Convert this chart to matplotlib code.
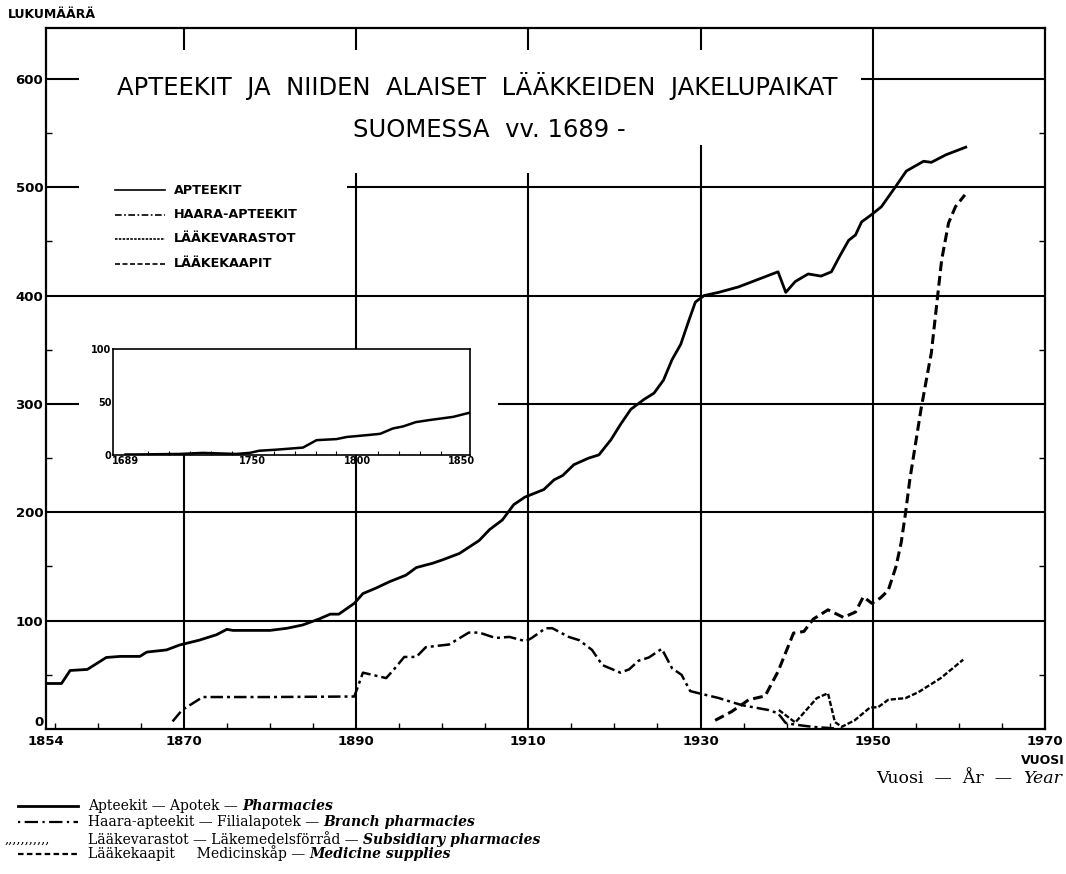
import matplotlib.pyplot as plt
from matplotlib.lines import Line2D

# Apteekit -- pharmacies, 1854-1961
apt_years = [1854, 1855.8, 1856.8, 1858.8, 1861, 1862.6, 1864.9, 1865.7, 1868, 1869.5,
             1871.8, 1873.8, 1875, 1875.7, 1880, 1882, 1883.8, 1885.7, 1887, 1888,
             1889.8, 1890.8, 1892.3, 1893.9, 1895.8, 1897, 1898.9, 1900, 1902, 1904.3,
             1905.5, 1907, 1908.3, 1909.6, 1911.8, 1913, 1914, 1915.3, 1917, 1918.2,
             1919.6, 1920.7, 1921.9, 1923.4, 1924.6, 1925.7, 1926.7, 1927.7, 1928.6, 1929.4,
             1930.4, 1932.1, 1934.4, 1936.7, 1939, 1939.9, 1941, 1942.5, 1944, 1945.2,
             1946.2, 1947.2, 1948, 1948.7, 1949.9, 1951, 1952.6, 1953.9, 1955.9, 1956.8,
             1958.5, 1960.8]
apt_counts = [42, 42, 54, 55, 66, 67, 67, 71, 73, 77.5,
              82, 87, 92, 91, 91, 93, 96, 101.5, 106, 106,
              116, 125, 130, 136, 142, 149, 153, 156, 162, 174,
              184, 193, 207, 214, 221, 230, 234, 244, 250, 253,
              267, 281, 295, 304, 310, 322, 341, 355, 376, 394,
              400, 403, 408, 415, 422, 403, 413, 420, 418, 422,
              437, 451, 456, 468, 475, 482, 500, 515, 524, 523,
              530, 537]

# Haara-apteekit -- branch pharmacies
haara_years = [1868.7, 1869.8, 1872.2, 1880, 1889.8, 1890.8, 1893.5, 1894.4, 1895.6, 1897,
               1898.1, 1900.8, 1903.1, 1904.3, 1906.2, 1907.8, 1909.7, 1910.4, 1912, 1912.8,
               1914.7, 1915.9, 1917.4, 1918.6, 1920.7, 1921.7, 1922.8, 1924, 1925.5, 1926.7,
               1927.8, 1928.8, 1929.8, 1932.1, 1934.8, 1937.9, 1939, 1939.9, 1941, 1943,
               1945.6]
haara_counts = [7, 17.5, 29.5, 29.5, 30, 52, 47, 55, 66.5, 66.5,
                75.5, 78, 89, 89, 84, 85, 81, 84, 93, 93,
                85, 82, 73, 59, 52, 55, 63, 66, 74, 56,
                50, 35, 33, 28.6, 22, 17.5, 14.5, 5.5, 4, 2,
                0.5]

# Lääkevarastot -- subsidiary pharmacies
varasto_years = [1939.1, 1941, 1943.5, 1944.8, 1945.6, 1946.4, 1947.9, 1949.7, 1950.6, 1951.8,
                 1953.8, 1955.3, 1957.9, 1960.5]
varasto_counts = [17.5, 6, 28.5, 33, 6.5, 2, 8, 20, 20, 27,
                  28.5, 34, 47, 64]

# Lääkekaapit -- medicine supplies
kaappi_years = [1931.7, 1933.6, 1935.6, 1937.5, 1939, 1940.8, 1942, 1943.1, 1944.8, 1946.6,
                1948, 1948.9, 1949.9, 1950.9, 1951.8, 1952.7, 1953.3, 1953.8, 1954.3, 1954.9,
                1955.6, 1956.4, 1956.8, 1957.4, 1958, 1958.8, 1959.6, 1960.7]
kaappi_counts = [8, 16, 27, 30.5, 53, 88.5, 90, 101.5, 110, 103,
                 108, 122, 116, 121, 128, 150, 172, 199, 230, 260,
                 295, 330, 347, 390, 433, 467, 482, 493]

# pharmacies before 1854 (small chart)
early_years = [1689, 1694, 1715, 1726, 1742, 1748.5, 1753, 1761, 1774, 1780.5,
               1790, 1795, 1806, 1811, 1817, 1822, 1828, 1834.7, 1846, 1854]
early_counts = [0.5, 0.5, 1, 2, 1, 2, 4, 5, 7, 14,
                15, 17, 19, 20, 25, 27, 31, 33, 36, 40]

year_ticks = [1854, 1870, 1890, 1910, 1930, 1950, 1970]
count_ticks = [0, 100, 200, 300, 400, 500, 600]
early_year_ticks = [1689, 1750, 1800, 1850]
early_count_ticks = [0, 50, 100]

W, H = 1066, 874
fig = plt.figure(figsize=(W / 100, H / 100), dpi=100)
fig.patch.set_facecolor('white')

ax = fig.add_axes([46 / W, 145 / H, 999 / W, 701 / H])
ax.set_xlim(1854, 1970)
ax.set_ylim(0, 647)

# grid, broken where the heading, key and small chart sit
grid_kw = dict(color='black', lw=1.5, zorder=1)
ax.hlines([100, 200, 400], 1854, 1970, **grid_kw)
ax.hlines([300, 500, 600], 1854, 1857.8, **grid_kw)
ax.hlines(300, 1906.5, 1970, **grid_kw)
ax.hlines(500, 1889, 1970, **grid_kw)
ax.hlines(600, 1948.6, 1970, **grid_kw)
ax.vlines([1870, 1890, 1910, 1930], 627, 647, **grid_kw)
ax.vlines(1870, 0, 253, **grid_kw)
ax.vlines([1890, 1910], 0, 513, **grid_kw)
ax.vlines(1930, 0, 539, **grid_kw)
ax.vlines(1950, 0, 647, **grid_kw)

ax.plot(apt_years, apt_counts, color='black', lw=2.0, solid_joinstyle='round', zorder=3)
ax.plot(haara_years, haara_counts, color='black', lw=1.8,
        linestyle=(0, (5, 1.6, 1.2, 1.6)), zorder=3)
ax.plot(varasto_years, varasto_counts, color='black', lw=1.7,
        linestyle=(0, (2.2, 0.9)), zorder=3)
ax.plot(kaappi_years, kaappi_counts, color='black', lw=2.2,
        linestyle=(0, (3.2, 1.6)), zorder=3)

ax.set_xticks(year_ticks)
ax.set_yticks(count_ticks)
ax.set_xticks(range(1855, 1970, 5), minor=True)
ax.set_yticks(range(50, 647, 100), minor=True)
ax.tick_params(which='major', length=0, labelsize=9.5, pad=4)
ax.tick_params(axis='y', which='major', pad=2)
ax.tick_params(which='minor', direction='in', length=4, width=1,
               right=True, left=True, bottom=True)
for lab in ax.get_xticklabels() + ax.get_yticklabels():
    lab.set_fontweight('bold')
ax.get_yticklabels()[0].set_va('bottom')
for sp in ax.spines.values():
    sp.set_linewidth(1.6)

# small chart for 1689-1854
ins = fig.add_axes([113 / W, (H - 455) / H, 357 / W, 106 / H])
ins.set_facecolor('white')
ins.set_xlim(1683, 1854)
ins.set_ylim(0, 100)
ins.plot(early_years, early_counts, color='black', lw=1.8, zorder=3)
ins.set_xticks(early_year_ticks)
ins.set_yticks(early_count_ticks)
ins.set_xticks(range(1700, 1850, 10), minor=True)
ins.tick_params(which='major', length=0, labelsize=7, pad=1)
ins.tick_params(which='minor', direction='in', length=3, width=0.8)
for lab in ins.get_xticklabels() + ins.get_yticklabels():
    lab.set_fontweight('bold')
for sp in ins.spines.values():
    sp.set_linewidth(1.2)

# text layer in pixel units
lay = fig.add_axes([0, 0, 1, 1])
lay.set_xlim(0, W)
lay.set_ylim(H, 0)
lay.axis('off')

lay.text(8, 14, 'LUKUMÄÄRÄ', fontsize=9, fontweight='bold', va='center')
lay.text(477, 86, 'APTEEKIT  JA  NIIDEN  ALAISET  LÄÄKKEIDEN  JAKELUPAIKAT',
         fontsize=17.5, ha='center', va='center')
lay.text(489, 130, 'SUOMESSA  vv. 1689 -', fontsize=17.5, ha='center', va='center')
lay.text(1065, 760, 'VUOSI', fontsize=9, fontweight='bold', ha='right', va='center')

# key inside the chart
key = [('APTEEKIT', '-'),
       ('HAARA-APTEEKIT', (0, (4, 1.5, 1, 1.5))),
       ('LÄÄKEVARASTOT', (0, (1.5, 0.8))),
       ('LÄÄKEKAAPIT', (0, (3, 1.5)))]
for i, (name, ls) in enumerate(key):
    y = 190 + i * 24.5
    lay.add_line(Line2D([115, 165], [y, y], color='black', lw=1.2, linestyle=ls))
    lay.text(174, y, name, fontsize=9.2, fontweight='bold', va='center')

# key below the chart
serif = 'DejaVu Serif'
rows = [('Apteekit — Apotek — ', 'Pharmacies', '-'),
        ('Haara-apteekit — Filialapotek — ', 'Branch pharmacies', (0, (1, 2, 6, 2))),
        ('Lääkevarastot — Läkemedelsförråd — ', 'Subsidiary pharmacies', None),
        ('Lääkekaapit     Medicinskåp — ', 'Medicine supplies', (0, (2.5, 1.5)))]
row_y = [810, 826, 844, 858]
for (plain, ital, ls), y in zip(rows, row_y):
    if ls is None:
        lay.text(5, y - 1, ',,,,,,,,,,,', fontsize=9.5, family=serif, va='baseline')
    else:
        lay.add_line(Line2D([18, 78], [y - 4, y - 4], color='black',
                            lw=2.0 if ls == '-' else 1.6, linestyle=ls))
    t = lay.text(88, y, plain, fontsize=10, family=serif, va='baseline')
    lay.annotate(ital, xy=(1, 0), xycoords=t, fontsize=10, family=serif,
                 style='italic', fontweight='bold', va='bottom')

yr = lay.text(1062, 783, 'Year', fontsize=12.5, family=serif, style='italic',
              ha='right', va='baseline')
lay.annotate('Vuosi  —  År  —  ', xy=(0, 0), xycoords=yr, fontsize=12.5, family=serif,
             ha='right', va='bottom')

fig.savefig('out.png', dpi=100)
